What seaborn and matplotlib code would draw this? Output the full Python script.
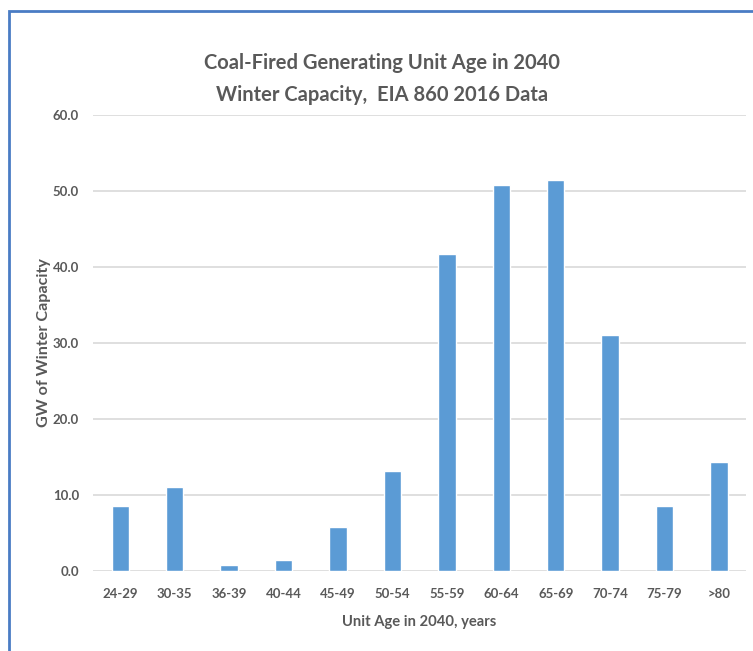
import numpy as np
import matplotlib
matplotlib.use("Agg")
import matplotlib.pyplot as plt
import seaborn as sns
import pandas as pd
from matplotlib.patches import Rectangle

# Data
age_bins = ["24-29", "30-35", "36-39", "40-44", "45-49", "50-54",
            "55-59", "60-64", "65-69", "70-74", "75-79", ">80"]
capacity_gw = [8.6, 11.1, 0.8, 1.5, 5.8, 13.1,
               41.7, 50.8, 51.5, 31.0, 8.5, 14.3]
y_ticks = [0, 10, 20, 30, 40, 50, 60]

df = pd.DataFrame({"age": age_bins, "gw": capacity_gw})

sns.set_style("white")
plt.rcParams["font.family"] = ["Lato", "DejaVu Sans"]

text_gray = "#595959"
bar_blue = "#5B9BD5"
grid_gray = "#D9D9D9"

fig = plt.figure(figsize=(7.53, 6.51), dpi=100)
ax = fig.add_axes([0.1235, 0.1229, 0.8675, 0.7004])

sns.barplot(data=df, x="age", y="gw", color=bar_blue, width=0.32,
            saturation=1, ax=ax, zorder=3)

ax.set_ylim(0, 60)
ax.set_yticks(y_ticks)
ax.set_yticklabels([f"{v:.1f}" for v in y_ticks])
ax.set_xlim(-0.5, len(age_bins) - 0.5)
ax.yaxis.grid(True, color=grid_gray, linewidth=1.2, zorder=0)
ax.set_axisbelow(True)
for s in ax.spines.values():
    s.set_visible(False)
ax.tick_params(axis="both", length=0, labelcolor=text_gray, labelsize=9.5)
ax.tick_params(axis="x", pad=12)
ax.tick_params(axis="y", pad=10)
for lab in ax.get_xticklabels() + ax.get_yticklabels():
    lab.set_fontweight("bold")

ax.set_xlabel("Unit Age in 2040, years", color=text_gray, fontsize=10.6,
              fontweight="bold", labelpad=11)
ax.set_ylabel("GW of Winter Capacity", color=text_gray, fontsize=11.6,
              fontweight="bold", labelpad=1)

fig.text(0.507, 0.903, "Coal-Fired Generating Unit Age in 2040",
         ha="center", va="center", fontsize=14.5, fontweight="bold", color=text_gray)
fig.text(0.507, 0.854, "Winter Capacity,  EIA 860 2016 Data",
         ha="center", va="center", fontsize=14.5, fontweight="bold", color=text_gray)

# blue chart frame (top and left edges visible, the rest cropped off)
fig.add_artist(Rectangle((9 / 753, -0.1), 1.2, 1 - 11 / 651 + 0.1,
                         transform=fig.transFigure, fill=False,
                         edgecolor="#4A7CC4", linewidth=2))

fig.savefig("out.png", dpi=100)
